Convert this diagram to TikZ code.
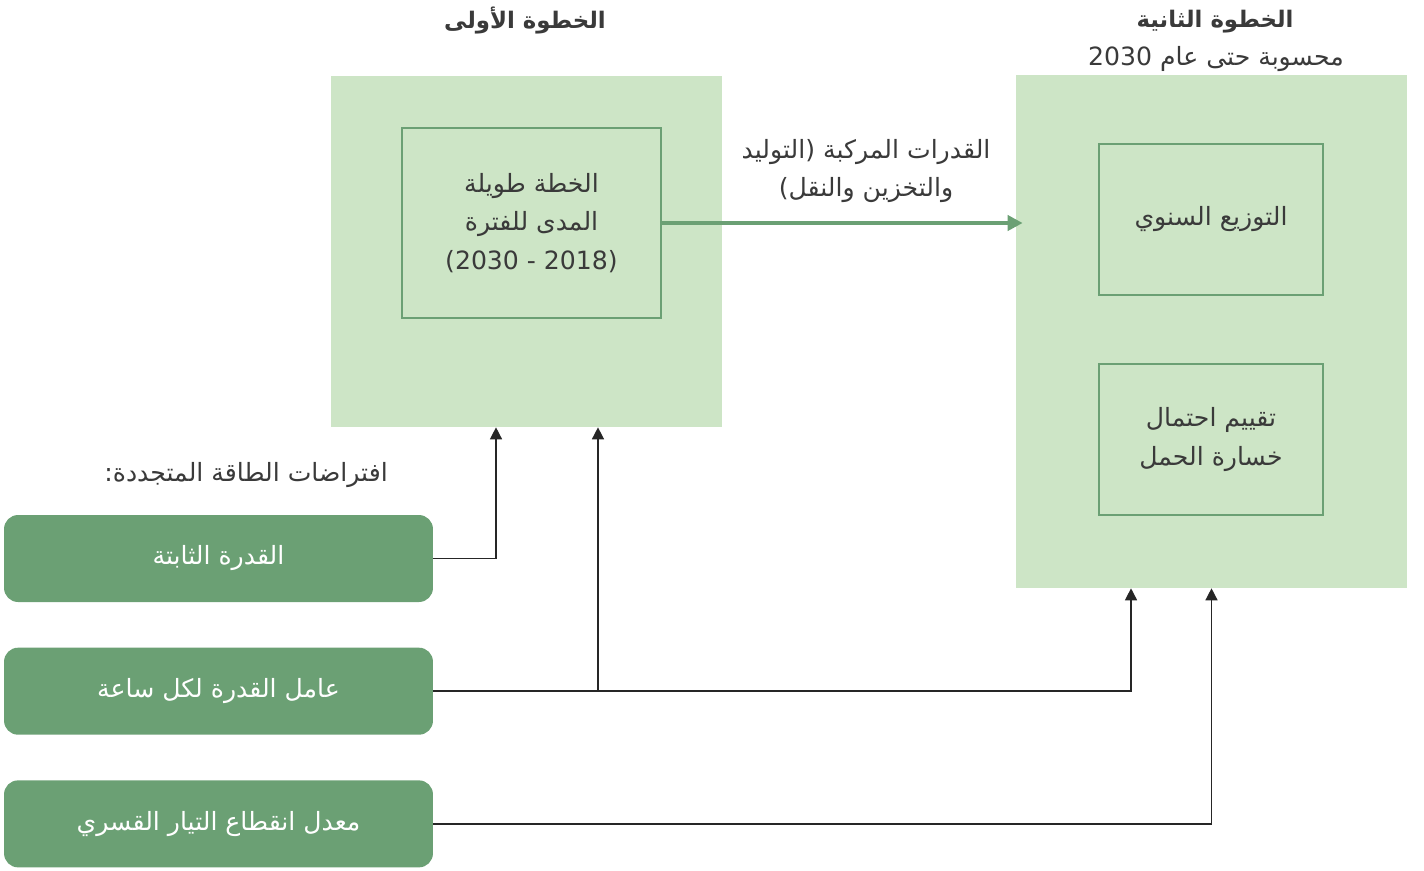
\documentclass[tikz,border=0pt]{standalone}
\usepackage{fontspec}
\newfontfamily\arabicfont[Script=Arabic]{DejaVu Sans}
\newfontfamily\latinfont{DejaVu Sans}
\TeXXeTstate=1
\usetikzlibrary{arrows.meta,positioning}
\definecolor{pale}{HTML}{CDE5C6}
\definecolor{leaf}{HTML}{6BA074}
\definecolor{ink}{HTML}{3A3A3A}
\newcommand{\rtl}[1]{\beginR #1\endR}

\begin{document}
\begin{tikzpicture}[
    x=0.02cm, y=-0.02cm,
    txt/.style={font=\arabicfont\fontsize{14.3}{22}\selectfont,text=ink,align=center},
    stage/.style={fill=pale,inner sep=0pt},
    inbox/.style={txt,draw=leaf,line width=1.2pt,fill=pale},
    input/.style={txt,fill=leaf,text=white,rounded corners=0.28cm,minimum width=8.58cm,minimum height=1.74cm},
    title/.style={txt,font=\arabicfont\bfseries\fontsize{13}{21}\selectfont},
    feed/.style={-{Triangle[length=2.4mm,width=2.4mm]},line width=0.8pt,black!85},
    flow/.style={-{Triangle[length=3mm,width=3mm]},line width=2.3pt,leaf}
  ]
    \useasboundingbox (0,0) rectangle (1424,870);
    % stage boxes
    \node[stage,minimum width=7.82cm,minimum height=7.02cm] (stage1) at (526.5,251.5) {};
    \node[stage,minimum width=7.82cm,minimum height=10.26cm] (stage2) at (1211.5,331.5) {};
    \node[inbox,minimum width=5.18cm,minimum height=3.8cm] (plan) at (531.5,223)
      {\rtl{الخطة طويلة}\\\rtl{المدى للفترة}\\{\latinfont (2030 - 2018)}};
    \node[inbox,minimum width=4.48cm,minimum height=3.02cm] (annual) at (1211,219.5) {\rtl{التوزيع السنوي}};
    \node[inbox,minimum width=4.48cm,minimum height=3.02cm] (lolp) at (1211,439.5)
      {\rtl{تقييم احتمال}\\\rtl{خسارة الحمل}};
    % titles
    \node[title] (title1) at (525,20) {\rtl{الخطوة الأولى}};
    \node[title] (title2) at (1215,22) {\rtl{الخطوة الثانية}};
    \node[txt] (sub2) at (1216,59) {\rtl{محسوبة حتى عام \beginL2030\endL}};
    \node[txt] (caplabel) at (866,171) {\rtl{القدرات المركبة (التوليد}\\\rtl{والتخزين والنقل)}};
    % renewable inputs
    \node[txt,anchor=east] (assume) at (394,475) {\rtl{افتراضات الطاقة المتجددة:}};
    \node[input] (fixed) at (218.5,558.5) {\rtl{القدرة الثابتة}};
    \node[input,below=0.9cm of fixed] (hourly) {\rtl{عامل القدرة لكل ساعة}};
    \node[input,below=0.9cm of hourly] (outage) {\rtl{معدل انقطاع التيار القسري}};
    % connectors
    \draw[flow,shorten >=-0.14cm] (plan.east) -- (plan.east -| stage2.west);
    \draw[feed] (fixed.east) -| ([xshift=-0.61cm]stage1.south);
    \draw[feed] (hourly.east) -| ([xshift=1.43cm]stage1.south);
    \draw[feed] (hourly.east) -| ([xshift=-1.61cm]stage2.south);
    \draw[feed] (outage.east) -| (stage2.south);
  \end{tikzpicture}
\end{document}
